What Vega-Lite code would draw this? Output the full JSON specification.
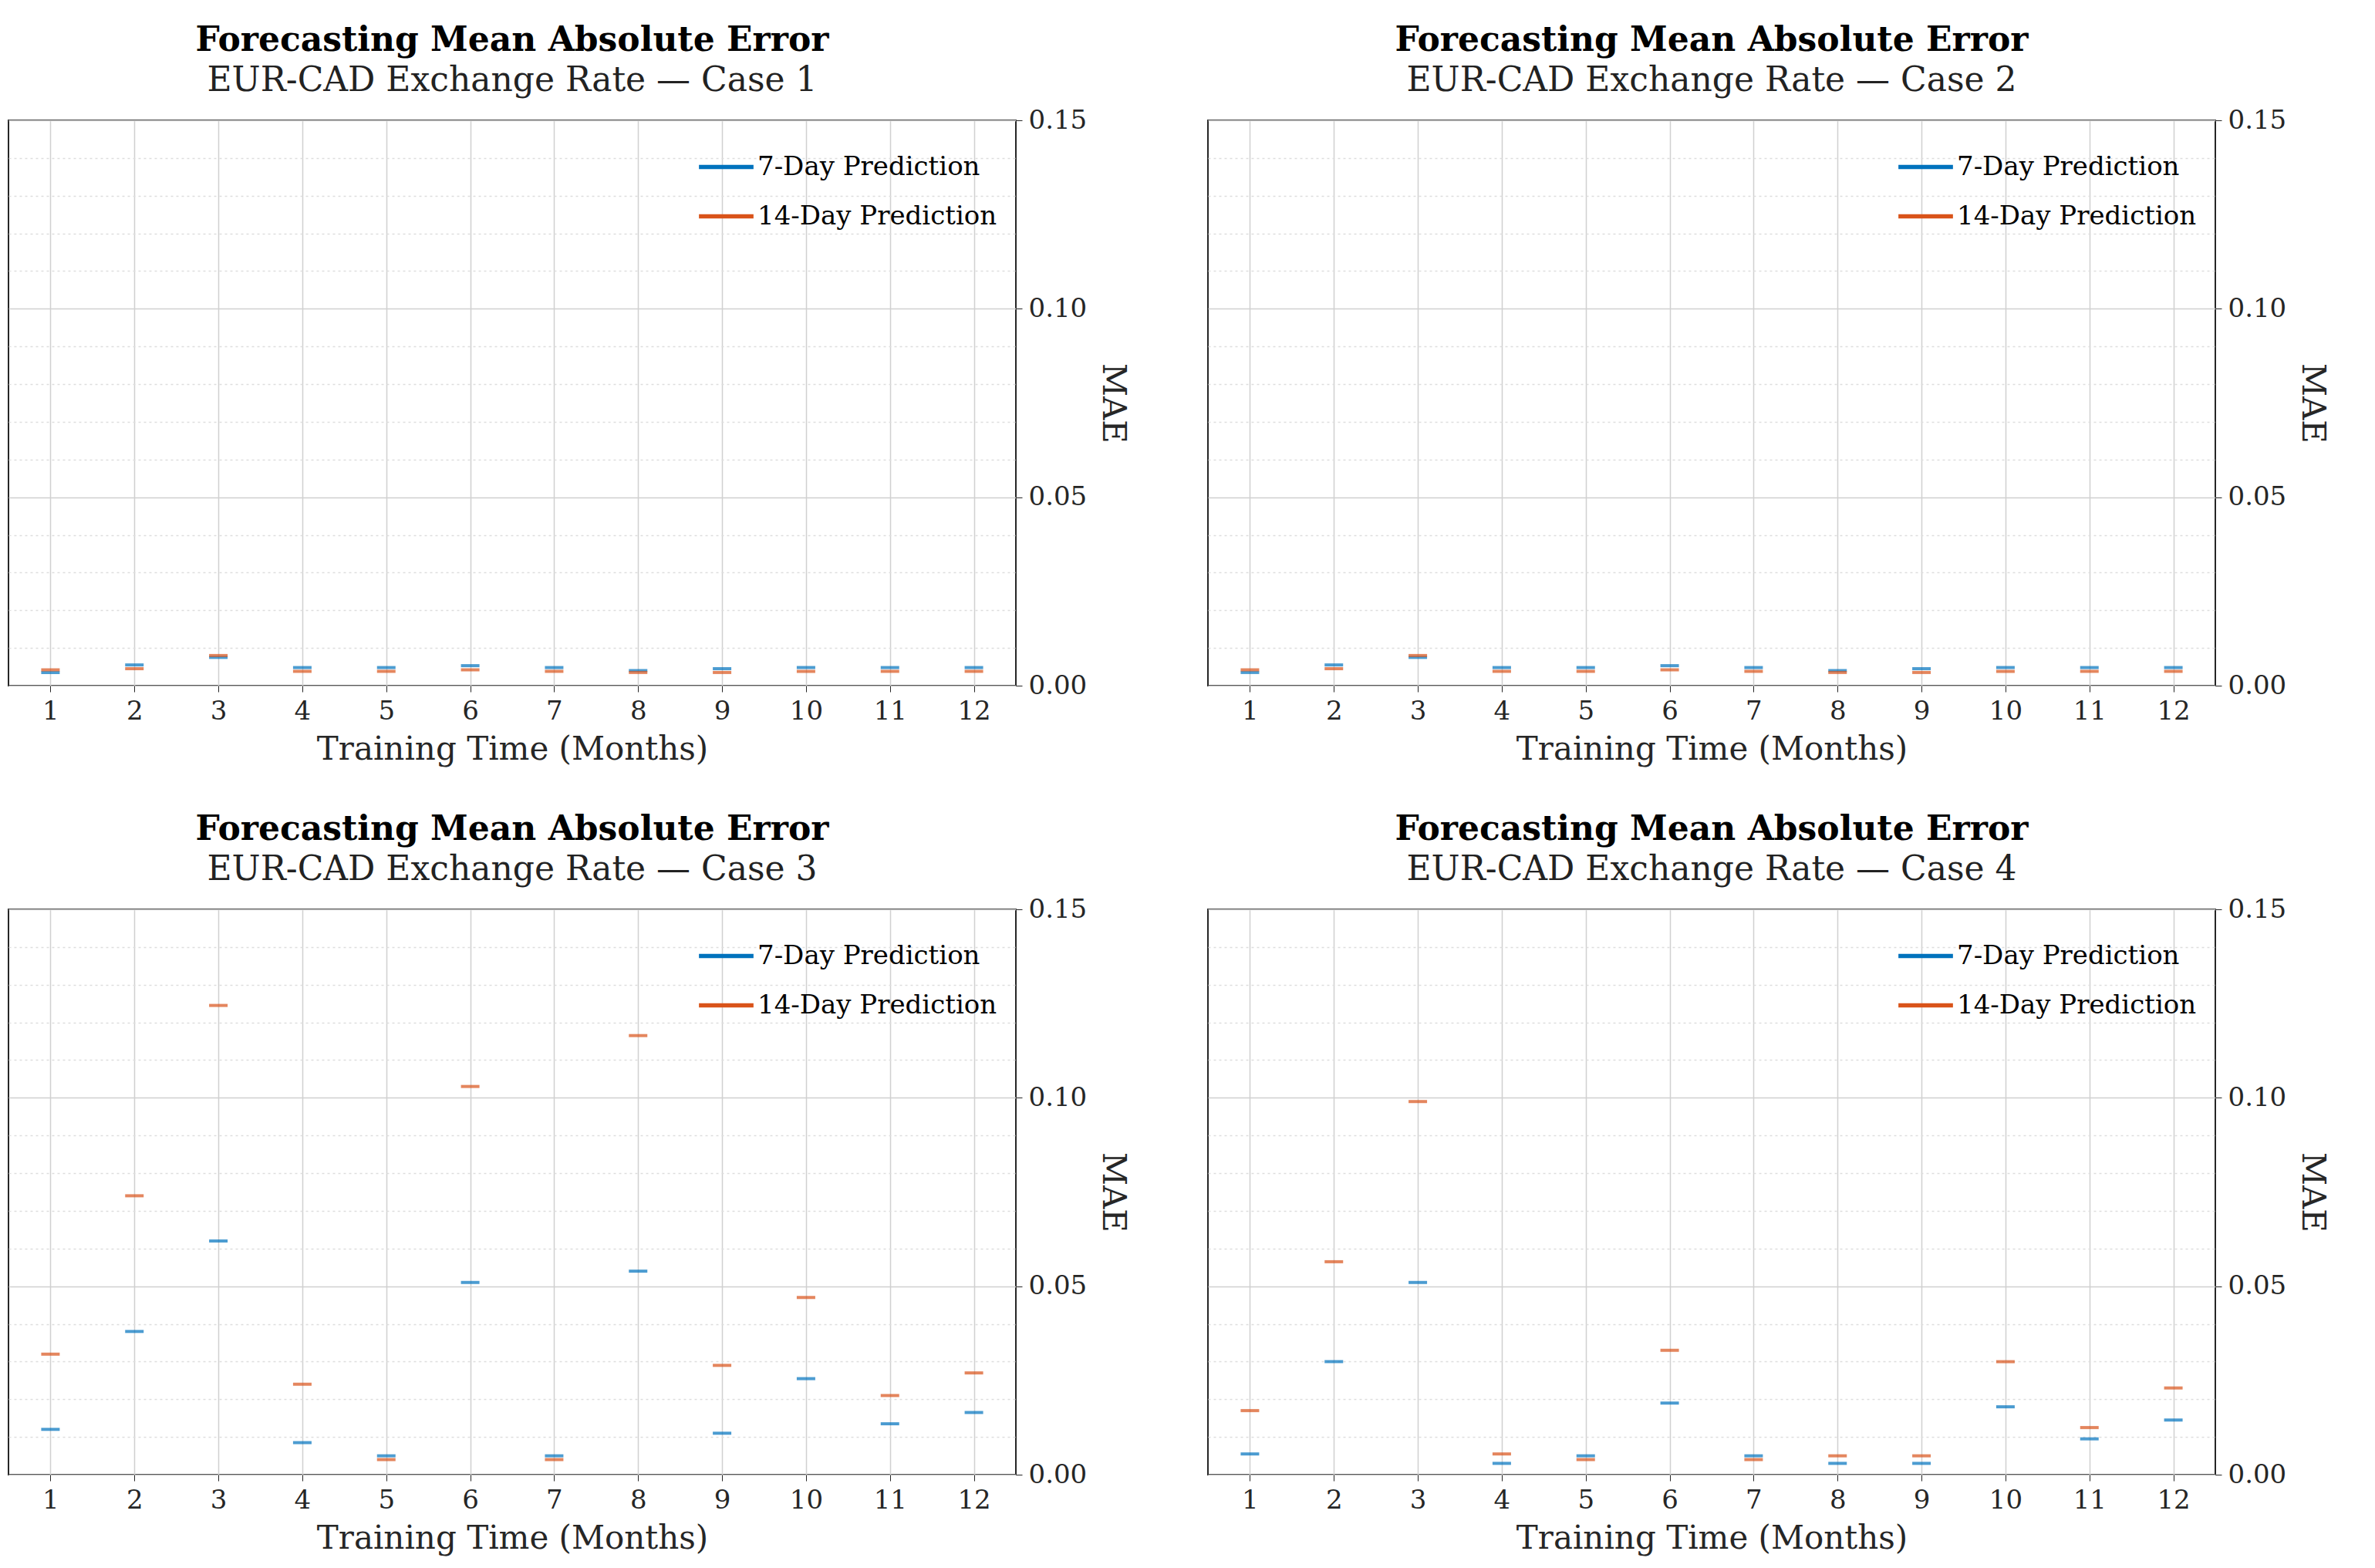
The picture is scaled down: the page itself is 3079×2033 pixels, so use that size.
{
  "$schema": "https://vega.github.io/schema/vega-lite/v6.json",
  "background": "white",
  "padding": {"left": 10, "top": 30, "right": 20, "bottom": 5},
  "datasets": {
    "mae": [
      {"case": 1, "month": 1, "series": "7-Day Prediction", "mae": 0.0035},
      {"case": 1, "month": 2, "series": "7-Day Prediction", "mae": 0.0055},
      {"case": 1, "month": 3, "series": "7-Day Prediction", "mae": 0.0075},
      {"case": 1, "month": 4, "series": "7-Day Prediction", "mae": 0.0048},
      {"case": 1, "month": 5, "series": "7-Day Prediction", "mae": 0.0048},
      {"case": 1, "month": 6, "series": "7-Day Prediction", "mae": 0.0053},
      {"case": 1, "month": 7, "series": "7-Day Prediction", "mae": 0.0048},
      {"case": 1, "month": 8, "series": "7-Day Prediction", "mae": 0.004},
      {"case": 1, "month": 9, "series": "7-Day Prediction", "mae": 0.0045},
      {"case": 1, "month": 10, "series": "7-Day Prediction", "mae": 0.0048},
      {"case": 1, "month": 11, "series": "7-Day Prediction", "mae": 0.0048},
      {"case": 1, "month": 12, "series": "7-Day Prediction", "mae": 0.0048},
      {"case": 1, "month": 1, "series": "14-Day Prediction", "mae": 0.0042},
      {"case": 1, "month": 2, "series": "14-Day Prediction", "mae": 0.0045},
      {"case": 1, "month": 3, "series": "14-Day Prediction", "mae": 0.008},
      {"case": 1, "month": 4, "series": "14-Day Prediction", "mae": 0.0038},
      {"case": 1, "month": 5, "series": "14-Day Prediction", "mae": 0.0038},
      {"case": 1, "month": 6, "series": "14-Day Prediction", "mae": 0.0042},
      {"case": 1, "month": 7, "series": "14-Day Prediction", "mae": 0.0038},
      {"case": 1, "month": 8, "series": "14-Day Prediction", "mae": 0.0035},
      {"case": 1, "month": 9, "series": "14-Day Prediction", "mae": 0.0035},
      {"case": 1, "month": 10, "series": "14-Day Prediction", "mae": 0.0038},
      {"case": 1, "month": 11, "series": "14-Day Prediction", "mae": 0.0038},
      {"case": 1, "month": 12, "series": "14-Day Prediction", "mae": 0.0038},
      {"case": 2, "month": 1, "series": "7-Day Prediction", "mae": 0.0035},
      {"case": 2, "month": 2, "series": "7-Day Prediction", "mae": 0.0055},
      {"case": 2, "month": 3, "series": "7-Day Prediction", "mae": 0.0075},
      {"case": 2, "month": 4, "series": "7-Day Prediction", "mae": 0.0048},
      {"case": 2, "month": 5, "series": "7-Day Prediction", "mae": 0.0048},
      {"case": 2, "month": 6, "series": "7-Day Prediction", "mae": 0.0053},
      {"case": 2, "month": 7, "series": "7-Day Prediction", "mae": 0.0048},
      {"case": 2, "month": 8, "series": "7-Day Prediction", "mae": 0.004},
      {"case": 2, "month": 9, "series": "7-Day Prediction", "mae": 0.0045},
      {"case": 2, "month": 10, "series": "7-Day Prediction", "mae": 0.0048},
      {"case": 2, "month": 11, "series": "7-Day Prediction", "mae": 0.0048},
      {"case": 2, "month": 12, "series": "7-Day Prediction", "mae": 0.0048},
      {"case": 2, "month": 1, "series": "14-Day Prediction", "mae": 0.0042},
      {"case": 2, "month": 2, "series": "14-Day Prediction", "mae": 0.0045},
      {"case": 2, "month": 3, "series": "14-Day Prediction", "mae": 0.008},
      {"case": 2, "month": 4, "series": "14-Day Prediction", "mae": 0.0038},
      {"case": 2, "month": 5, "series": "14-Day Prediction", "mae": 0.0038},
      {"case": 2, "month": 6, "series": "14-Day Prediction", "mae": 0.0042},
      {"case": 2, "month": 7, "series": "14-Day Prediction", "mae": 0.0038},
      {"case": 2, "month": 8, "series": "14-Day Prediction", "mae": 0.0035},
      {"case": 2, "month": 9, "series": "14-Day Prediction", "mae": 0.0035},
      {"case": 2, "month": 10, "series": "14-Day Prediction", "mae": 0.0038},
      {"case": 2, "month": 11, "series": "14-Day Prediction", "mae": 0.0038},
      {"case": 2, "month": 12, "series": "14-Day Prediction", "mae": 0.0038},
      {"case": 3, "month": 1, "series": "7-Day Prediction", "mae": 0.012},
      {"case": 3, "month": 2, "series": "7-Day Prediction", "mae": 0.038},
      {"case": 3, "month": 3, "series": "7-Day Prediction", "mae": 0.062},
      {"case": 3, "month": 4, "series": "7-Day Prediction", "mae": 0.0085},
      {"case": 3, "month": 5, "series": "7-Day Prediction", "mae": 0.005},
      {"case": 3, "month": 6, "series": "7-Day Prediction", "mae": 0.051},
      {"case": 3, "month": 7, "series": "7-Day Prediction", "mae": 0.005},
      {"case": 3, "month": 8, "series": "7-Day Prediction", "mae": 0.054},
      {"case": 3, "month": 9, "series": "7-Day Prediction", "mae": 0.011},
      {"case": 3, "month": 10, "series": "7-Day Prediction", "mae": 0.0255},
      {"case": 3, "month": 11, "series": "7-Day Prediction", "mae": 0.0135},
      {"case": 3, "month": 12, "series": "7-Day Prediction", "mae": 0.0165},
      {"case": 3, "month": 1, "series": "14-Day Prediction", "mae": 0.032},
      {"case": 3, "month": 2, "series": "14-Day Prediction", "mae": 0.074},
      {"case": 3, "month": 3, "series": "14-Day Prediction", "mae": 0.1245},
      {"case": 3, "month": 4, "series": "14-Day Prediction", "mae": 0.024},
      {"case": 3, "month": 5, "series": "14-Day Prediction", "mae": 0.004},
      {"case": 3, "month": 6, "series": "14-Day Prediction", "mae": 0.103},
      {"case": 3, "month": 7, "series": "14-Day Prediction", "mae": 0.004},
      {"case": 3, "month": 8, "series": "14-Day Prediction", "mae": 0.1165},
      {"case": 3, "month": 9, "series": "14-Day Prediction", "mae": 0.029},
      {"case": 3, "month": 10, "series": "14-Day Prediction", "mae": 0.047},
      {"case": 3, "month": 11, "series": "14-Day Prediction", "mae": 0.021},
      {"case": 3, "month": 12, "series": "14-Day Prediction", "mae": 0.027},
      {"case": 4, "month": 1, "series": "7-Day Prediction", "mae": 0.0055},
      {"case": 4, "month": 2, "series": "7-Day Prediction", "mae": 0.030},
      {"case": 4, "month": 3, "series": "7-Day Prediction", "mae": 0.051},
      {"case": 4, "month": 4, "series": "7-Day Prediction", "mae": 0.003},
      {"case": 4, "month": 5, "series": "7-Day Prediction", "mae": 0.005},
      {"case": 4, "month": 6, "series": "7-Day Prediction", "mae": 0.019},
      {"case": 4, "month": 7, "series": "7-Day Prediction", "mae": 0.005},
      {"case": 4, "month": 8, "series": "7-Day Prediction", "mae": 0.003},
      {"case": 4, "month": 9, "series": "7-Day Prediction", "mae": 0.003},
      {"case": 4, "month": 10, "series": "7-Day Prediction", "mae": 0.018},
      {"case": 4, "month": 11, "series": "7-Day Prediction", "mae": 0.0095},
      {"case": 4, "month": 12, "series": "7-Day Prediction", "mae": 0.0145},
      {"case": 4, "month": 1, "series": "14-Day Prediction", "mae": 0.017},
      {"case": 4, "month": 2, "series": "14-Day Prediction", "mae": 0.0565},
      {"case": 4, "month": 3, "series": "14-Day Prediction", "mae": 0.099},
      {"case": 4, "month": 4, "series": "14-Day Prediction", "mae": 0.0055},
      {"case": 4, "month": 5, "series": "14-Day Prediction", "mae": 0.004},
      {"case": 4, "month": 6, "series": "14-Day Prediction", "mae": 0.033},
      {"case": 4, "month": 7, "series": "14-Day Prediction", "mae": 0.004},
      {"case": 4, "month": 8, "series": "14-Day Prediction", "mae": 0.005},
      {"case": 4, "month": 9, "series": "14-Day Prediction", "mae": 0.005},
      {"case": 4, "month": 10, "series": "14-Day Prediction", "mae": 0.030},
      {"case": 4, "month": 11, "series": "14-Day Prediction", "mae": 0.0125},
      {"case": 4, "month": 12, "series": "14-Day Prediction", "mae": 0.023}
    ]
  },
  "columns": 2,
  "spacing": {"row": 60, "column": 100},
  "concat": [
    {
      "title": {"text": "Forecasting Mean Absolute Error", "subtitle": "EUR-CAD Exchange Rate — Case 1"},
      "width": 1306, "height": 733,
      "data": {"name": "mae"},
      "transform": [{"filter": "datum.case == 1"}],
      "layer": [
        {"mark": {"type": "rule", "opacity": 0}, "encoding": {"y": {"field": "mae", "type": "quantitative", "scale": {"domain": [0, 0.15]}, "axis": {"values": [0.01,0.02,0.03,0.04,0.06,0.07,0.08,0.09,0.11,0.12,0.13,0.14], "labels": false, "ticks": false, "domain": false, "title": null, "gridDash": [3, 4], "gridColor": "#dddddd"}}}},
        {"mark": {"type": "tick", "orient": "horizontal", "size": 24, "thickness": 4},
         "encoding": {
          "x": {"field": "month", "type": "quantitative", "scale": {"domain": [0.5, 12.5], "nice": false}, "axis": {"values": [1,2,3,4,5,6,7,8,9,10,11,12], "title": "Training Time (Months)"}},
          "y": {"field": "mae", "type": "quantitative", "scale": {"domain": [0, 0.15]}, "axis": {"values": [0, 0.05, 0.1, 0.15], "title": "MAE", "grid": true}},
          "color": {"field": "series", "type": "nominal", "scale": {"domain": ["7-Day Prediction", "14-Day Prediction"], "range": ["#0072BD", "#D95319"]}, "legend": {"orient": "top-right", "title": null}}
        }}
      ],
      "resolve": {"axis": {"y": "independent"}}
    },
    {
      "title": {"text": "Forecasting Mean Absolute Error", "subtitle": "EUR-CAD Exchange Rate — Case 2"},
      "width": 1306, "height": 733,
      "data": {"name": "mae"},
      "transform": [{"filter": "datum.case == 2"}],
      "layer": [
        {"mark": {"type": "rule", "opacity": 0}, "encoding": {"y": {"field": "mae", "type": "quantitative", "scale": {"domain": [0, 0.15]}, "axis": {"values": [0.01,0.02,0.03,0.04,0.06,0.07,0.08,0.09,0.11,0.12,0.13,0.14], "labels": false, "ticks": false, "domain": false, "title": null, "gridDash": [3, 4], "gridColor": "#dddddd"}}}},
        {"mark": {"type": "tick", "orient": "horizontal", "size": 24, "thickness": 4},
         "encoding": {
          "x": {"field": "month", "type": "quantitative", "scale": {"domain": [0.5, 12.5], "nice": false}, "axis": {"values": [1,2,3,4,5,6,7,8,9,10,11,12], "title": "Training Time (Months)"}},
          "y": {"field": "mae", "type": "quantitative", "scale": {"domain": [0, 0.15]}, "axis": {"values": [0, 0.05, 0.1, 0.15], "title": "MAE", "grid": true}},
          "color": {"field": "series", "type": "nominal", "scale": {"domain": ["7-Day Prediction", "14-Day Prediction"], "range": ["#0072BD", "#D95319"]}, "legend": {"orient": "top-right", "title": null}}
        }}
      ],
      "resolve": {"axis": {"y": "independent"}}
    },
    {
      "title": {"text": "Forecasting Mean Absolute Error", "subtitle": "EUR-CAD Exchange Rate — Case 3"},
      "width": 1306, "height": 733,
      "data": {"name": "mae"},
      "transform": [{"filter": "datum.case == 3"}],
      "layer": [
        {"mark": {"type": "rule", "opacity": 0}, "encoding": {"y": {"field": "mae", "type": "quantitative", "scale": {"domain": [0, 0.15]}, "axis": {"values": [0.01,0.02,0.03,0.04,0.06,0.07,0.08,0.09,0.11,0.12,0.13,0.14], "labels": false, "ticks": false, "domain": false, "title": null, "gridDash": [3, 4], "gridColor": "#dddddd"}}}},
        {"mark": {"type": "tick", "orient": "horizontal", "size": 24, "thickness": 4},
         "encoding": {
          "x": {"field": "month", "type": "quantitative", "scale": {"domain": [0.5, 12.5], "nice": false}, "axis": {"values": [1,2,3,4,5,6,7,8,9,10,11,12], "title": "Training Time (Months)"}},
          "y": {"field": "mae", "type": "quantitative", "scale": {"domain": [0, 0.15]}, "axis": {"values": [0, 0.05, 0.1, 0.15], "title": "MAE", "grid": true}},
          "color": {"field": "series", "type": "nominal", "scale": {"domain": ["7-Day Prediction", "14-Day Prediction"], "range": ["#0072BD", "#D95319"]}, "legend": {"orient": "top-right", "title": null}}
        }}
      ],
      "resolve": {"axis": {"y": "independent"}}
    },
    {
      "title": {"text": "Forecasting Mean Absolute Error", "subtitle": "EUR-CAD Exchange Rate — Case 4"},
      "width": 1306, "height": 733,
      "data": {"name": "mae"},
      "transform": [{"filter": "datum.case == 4"}],
      "layer": [
        {"mark": {"type": "rule", "opacity": 0}, "encoding": {"y": {"field": "mae", "type": "quantitative", "scale": {"domain": [0, 0.15]}, "axis": {"values": [0.01,0.02,0.03,0.04,0.06,0.07,0.08,0.09,0.11,0.12,0.13,0.14], "labels": false, "ticks": false, "domain": false, "title": null, "gridDash": [3, 4], "gridColor": "#dddddd"}}}},
        {"mark": {"type": "tick", "orient": "horizontal", "size": 24, "thickness": 4},
         "encoding": {
          "x": {"field": "month", "type": "quantitative", "scale": {"domain": [0.5, 12.5], "nice": false}, "axis": {"values": [1,2,3,4,5,6,7,8,9,10,11,12], "title": "Training Time (Months)"}},
          "y": {"field": "mae", "type": "quantitative", "scale": {"domain": [0, 0.15]}, "axis": {"values": [0, 0.05, 0.1, 0.15], "title": "MAE", "grid": true}},
          "color": {"field": "series", "type": "nominal", "scale": {"domain": ["7-Day Prediction", "14-Day Prediction"], "range": ["#0072BD", "#D95319"]}, "legend": {"orient": "top-right", "title": null}}
        }}
      ],
      "resolve": {"axis": {"y": "independent"}}
    }
  ],
  "resolve": {"scale": {"color": "shared"}, "legend": {"color": "independent"}},
  "config": {
    "font": "DejaVu Serif",
    "view": {"stroke": "#262626", "strokeWidth": 2},
    "title": {"fontSize": 44, "fontWeight": "bold", "subtitleFontSize": 44, "subtitleColor": "#222222", "color": "#000000", "anchor": "middle", "offset": 12, "subtitlePadding": 8},
    "axis": {"labelFontSize": 34, "titleFontSize": 42, "titleFontWeight": "normal", "labelColor": "#262626", "titleColor": "#262626", "domain": false, "tickColor": "#262626", "tickSize": 8, "gridColor": "#d0d0d0", "gridWidth": 1.5, "labelPadding": 8, "titlePadding": 12},
    "axisX": {"labelFlush": false},
    "axisY": {"labelFlush": false},
    "legend": {"labelFontSize": 34, "labelLimit": 0, "symbolType": "M-1,-0.08H1V0.08H-1Z", "symbolSize": 5000, "symbolOpacity": 1, "labelColor": "#000000", "offset": 24, "rowPadding": 10}
  }
}
